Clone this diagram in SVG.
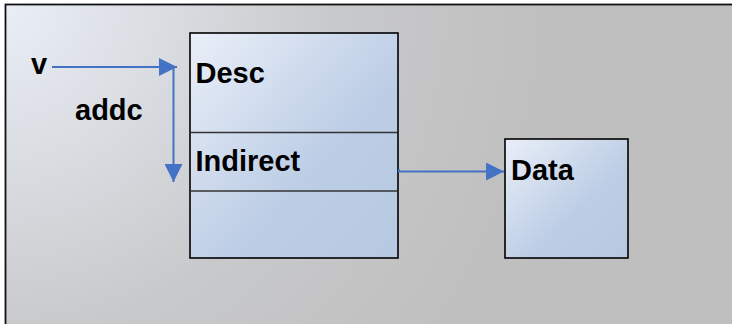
<svg xmlns="http://www.w3.org/2000/svg" width="732" height="324" viewBox="0 0 732 324">
<defs>
<radialGradient id="bg" gradientUnits="userSpaceOnUse" cx="0" cy="0" r="560">
<stop offset="0" stop-color="#eaeff7"/>
<stop offset="0.6" stop-color="#c8c9cb"/>
<stop offset="1" stop-color="#bfbfbf"/>
</radialGradient>
<linearGradient id="box" x1="0" y1="0" x2="1" y2="1">
<stop offset="0" stop-color="#eaeff8"/>
<stop offset="0.6" stop-color="#bccde5"/>
<stop offset="1" stop-color="#b7c9e2"/>
</linearGradient>
<marker id="ah" viewBox="0 0 10 10" refX="10" refY="5" markerWidth="9" markerHeight="9" orient="auto" markerUnits="strokeWidth">
<path d="M0,0 L10,5 L0,10 z" fill="#4472c4"/>
</marker>
<style>
.node{fill:url(#box);stroke:#000;stroke-width:1.6}
.div{stroke:#333;stroke-width:1.3}
.t{font-family:"Liberation Sans",Arial,sans-serif;font-weight:bold;font-size:29px;fill:#000}
.c{fill:none;stroke:#4472c4;stroke-width:2;marker-end:url(#ah)}
</style>
</defs>
<rect x="5.5" y="4.5" width="740" height="330" fill="url(#bg)" stroke="#111" stroke-width="1.8"/>
<g id="desc">
<rect class="node" x="190" y="33" width="208" height="225"/>
<line class="div" x1="191" y1="132.5" x2="397" y2="132.5"/>
<line class="div" x1="191" y1="191" x2="397" y2="191"/>
<text class="t" x="195.5" y="83">Desc</text>
<text class="t" x="195.5" y="171">Indirect</text>
</g>
<g id="data">
<rect class="node" x="505" y="139" width="123" height="119"/>
<text class="t" x="511" y="180">Data</text>
</g>
<g id="v">
<text class="t" x="31" y="74">v</text>
</g>
<g id="addc">
<text class="t" x="75" y="120">addc</text>
</g>
<g id="connectors">
<path class="c" d="M52,67 H177"/>
<path class="c" d="M173.5,67 V182"/>
<path class="c" d="M399,169 V171.5 H504"/>
</g>
</svg>
